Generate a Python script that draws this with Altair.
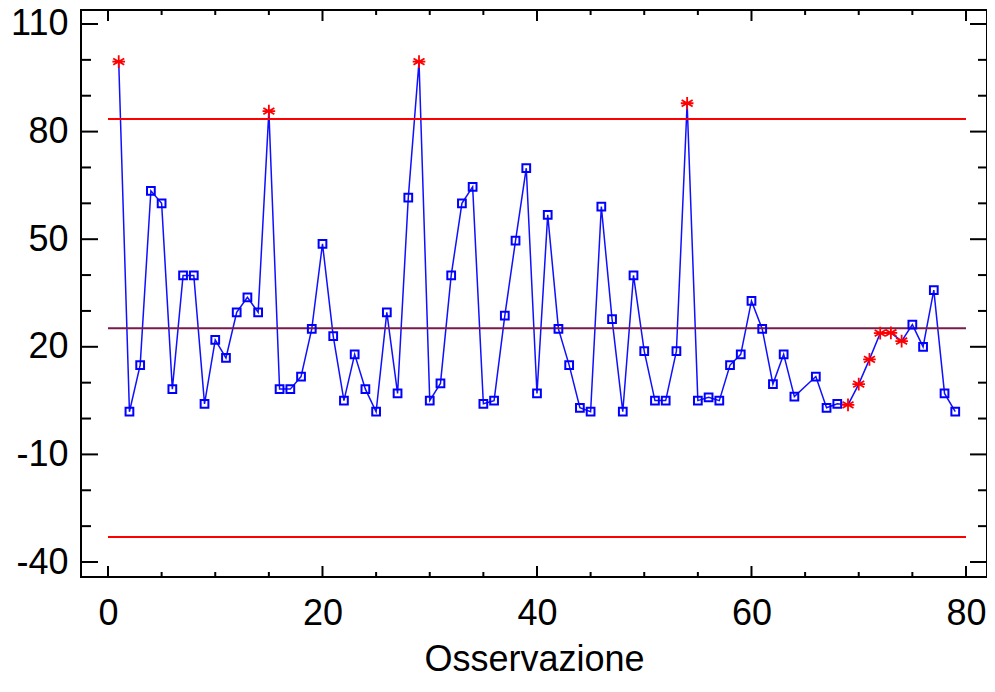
import altair as alt
import pandas as pd

# Observation index (note: observation 65 is absent in the reference)
obs = list(range(1, 65)) + list(range(66, 80))
values = [99.5, 1.9, 14.9, 63.5, 60.0, 8.2, 39.9, 39.9, 4.1, 21.9,
          16.9, 29.6, 33.8, 29.6, 85.7, 8.2, 8.2, 11.7, 25.0, 48.7,
          23.0, 5.0, 17.9, 8.2, 1.9, 29.6, 7.0, 61.6, 99.5, 5.0,
          9.8, 39.9, 60.0, 64.6, 4.1, 5.0, 28.7, 49.6, 69.8, 7.0,
          56.8, 25.0, 14.9, 3.0, 1.9, 59.1, 27.7, 1.9, 39.9, 18.8,
          5.0, 5.0, 18.8, 87.9, 5.0, 5.9, 5.0, 14.9, 17.9, 32.8,
          25.0, 9.6, 17.9, 6.1,
          11.7, 3.0, 4.1, 3.8, 9.6, 16.5, 23.8, 23.9, 21.6, 26.2,
          20.0, 35.8, 7.0, 1.9]
flagged_obs = [1, 15, 29, 54, 69, 70, 71, 72, 73, 74]

ucl = 83.5
center = 25.2
lcl = -33.0

x_major = [0, 20, 40, 60, 80]
x_minor = [5, 10, 15, 25, 30, 35, 45, 50, 55, 65, 70, 75]
y_major = [-40, -10, 20, 50, 80, 110]
y_minor = [-30, -20, 0, 10, 30, 40, 60, 70, 90, 100]

W, H = 906, 567
XDOM = [-2.517, 81.96]
YDOM = [-44.18, 113.9]

df = pd.DataFrame({"obs": obs, "val": values})
df["flag"] = df["obs"].isin(flagged_obs)

xs = alt.Scale(domain=XDOM, nice=False, zero=False)
ys = alt.Scale(domain=YDOM, nice=False, zero=False)
x_axis = alt.Axis(values=x_major, title="Osservazione", labelExpr="'' + datum.value")
y_axis = alt.Axis(values=y_major, title=None, labelExpr="'' + datum.value")


def X(field):
    return alt.X(field, scale=xs, axis=x_axis)


def Y(field):
    return alt.Y(field, scale=ys, axis=y_axis)


limits = pd.DataFrame({"v": [ucl, center, lcl], "x0": [0, 0, 0], "x1": [80, 80, 80],
                       "c": ["#ff0000", "#7a1a4a", "#ff0000"]})
limit_layer = alt.Chart(limits).mark_rule(strokeWidth=2).encode(
    x=X("x0:Q"), x2="x1:Q", y=Y("v:Q"),
    color=alt.Color("c:N", scale=None))

line = alt.Chart(df).mark_line(color="#1010ff", strokeWidth=1.5).encode(x=X("obs:Q"), y=Y("val:Q"))

squares = alt.Chart(df).transform_filter("!datum.flag").mark_point(
    shape="square", size=60, color="#0000ff", strokeWidth=2, filled=False, opacity=1
).encode(x=X("obs:Q"), y=Y("val:Q"))

star_path = "M0,-1L0,1M-0.87,-0.5L0.87,0.5M-0.87,0.5L0.87,-0.5M-1,0L1,0"
stars = alt.Chart(df).transform_filter("datum.flag").mark_point(
    shape=star_path, size=160, color="#ff0000", strokeWidth=1.8, filled=False, opacity=1
).encode(x=X("obs:Q"), y=Y("val:Q"))


def yticks(vals, x0, x1):
    return alt.Chart(pd.DataFrame({"val": vals})).mark_rule(color="black", strokeWidth=2).encode(
        y=Y("val:Q"), x=alt.value(x0), x2=alt.value(x1))


def xticks(vals, y0, y1):
    return alt.Chart(pd.DataFrame({"obs": vals})).mark_rule(color="black", strokeWidth=2).encode(
        x=X("obs:Q"), y=alt.value(y0), y2=alt.value(y1))


ticks = [
    yticks(y_major, 0, 17), yticks(y_minor, 0, 10),
    yticks(y_major, W, W - 17), yticks(y_minor, W, W - 9),
    xticks(x_major, H, H - 11), xticks(x_minor, H, H - 5),
    xticks(x_major, 0, 11), xticks(x_minor, 0, 5),
]

chart = alt.layer(line, limit_layer, squares, stars, *ticks).properties(
    width=W, height=H,
    autosize=alt.AutoSizeParams(type="none"),
    padding={"left": 73, "top": 2, "right": 0, "bottom": 101},
    background="white",
).configure_view(
    stroke="black", strokeWidth=2
).configure_axis(
    grid=False, domain=False, ticks=False, tickSize=0,
    labelFont="Liberation Sans", titleFont="Liberation Sans",
    labelFontSize=36, titleFontSize=36, labelColor="black", titleColor="black",
    titleFontWeight="normal", labelFlush=False, labelOverlap=False,
).configure_axisX(
    labelPadding=19, titleBaseline="alphabetic", titleY=93, titlePadding=0,
).configure_axisY(
    labelPadding=13,
)

chart.save("out.html", embed_options={"renderer": "svg", "actions": False})
